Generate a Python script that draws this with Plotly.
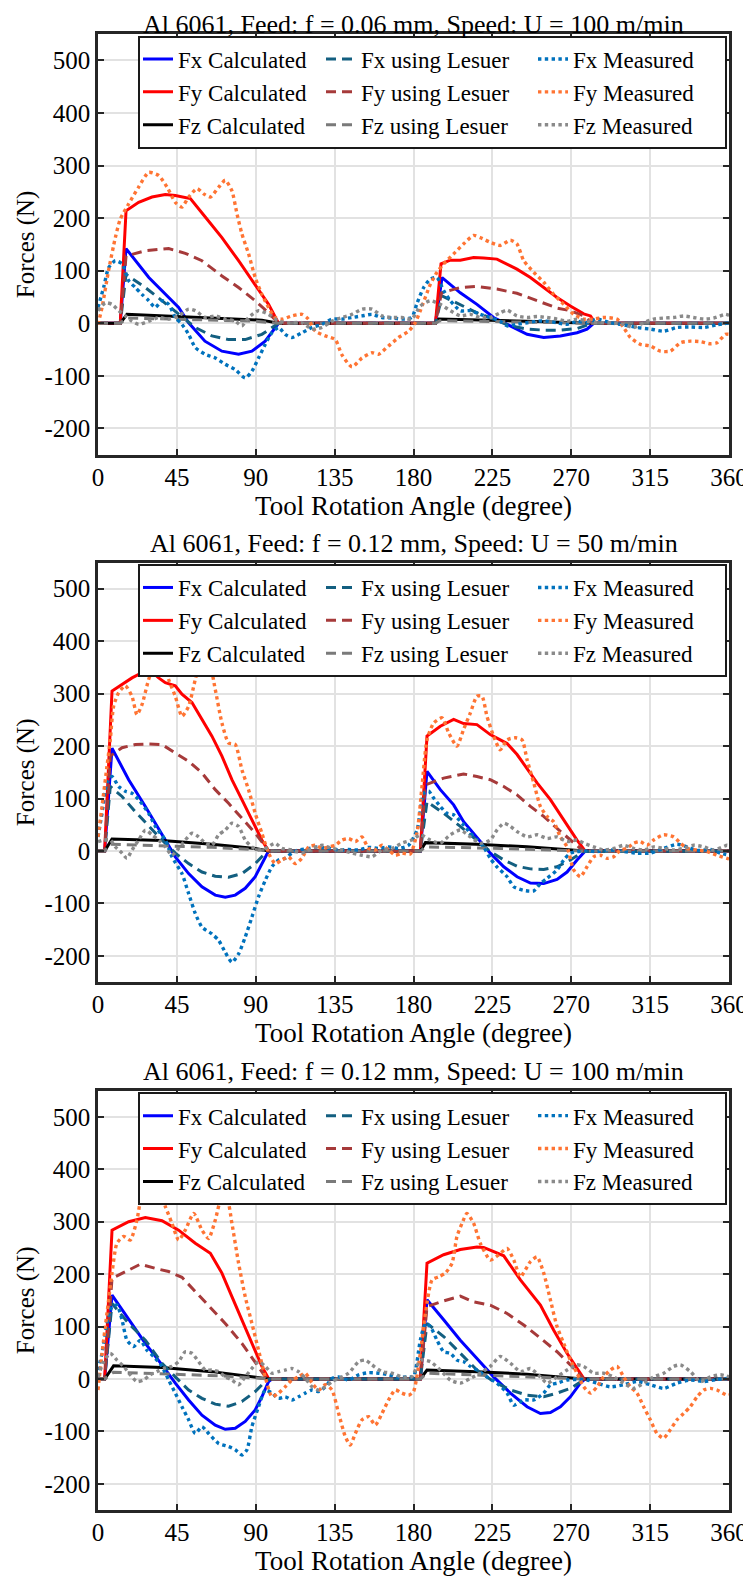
import plotly.graph_objects as go

# ---------------- DATA ----------------
titles = [
    "Al 6061, Feed: f = 0.06 mm, Speed: U = 100 m/min",
    "Al 6061, Feed: f = 0.12 mm, Speed: U = 50 m/min",
    "Al 6061, Feed: f = 0.12 mm, Speed: U = 100 m/min",
]
series_names = ["Fx Calculated", "Fy Calculated", "Fz Calculated",
                "Fx using Lesuer", "Fy using Lesuer", "Fz using Lesuer",
                "Fx Measured", "Fy Measured", "Fz Measured"]
x_ticks = [0, 45, 90, 135, 180, 225, 270, 315, 360]
y_ticks = [-200, -100, 0, 100, 200, 300, 400, 500]
y_tick_labels = ["-200", "-100", "0", "100", "200", "300", "400", "500"]

# ----- Plot 1: f = 0.06 mm, U = 100 m/min -----
p1_fx_calc_x = [0, 12.7, 16, 29, 46, 51.7, 61, 70.7, 80.2, 87.8, 95.4, 103, 192.5, 196.3, 206.7, 216.2, 225.7, 235.3, 244.8, 254.3, 263.8, 273.3, 279, 282.8, 360]
p1_fx_calc_y = [0, 0, 142, 87, 30, 1, -34, -53, -59, -53, -34, 0, 0, 87, 58, 36, 11, -5, -21, -27, -24, -18, -11, 0, 0]
p1_fy_calc_x = [0, 12.7, 16, 23.2, 30.8, 38.4, 44.1, 52.7, 61.2, 70.7, 80.2, 89.7, 97.3, 103, 192.5, 195.7, 201, 206.7, 214.3, 220, 227.6, 235.3, 239, 246.7, 254.3, 261.9, 269.5, 277.1, 281, 283.8, 360]
p1_fy_calc_y = [0, 0, 214, 230, 240, 245, 243, 237, 202, 163, 119, 74, 36, 0, 0, 113, 120, 120, 125, 124, 122, 109, 103, 87, 68, 49, 33, 18, 14, 0, 0]
p1_fz_calc_x = [0, 12.7, 16.5, 55.5, 74.5, 93.5, 103, 192.5, 194.4, 225.7, 254.3, 281.9, 360]
p1_fz_calc_y = [0, 0, 17, 12, 9, 6, 0, 0, 8, 6, 3, 0, 0]
p1_fx_les_x = [0, 12.7, 16, 27, 36.5, 46, 55.5, 65, 74.5, 84, 93.5, 103, 192.5, 196.3, 206.7, 216.2, 225.7, 235.3, 244.8, 254.3, 263.8, 273.3, 281.9, 360]
p1_fx_les_y = [0, 0, 93, 68, 43, 17, -8, -24, -31, -31, -21, 0, 0, 52, 36, 20, 8, -5, -11, -13, -13, -10, 0, 0]
p1_fy_les_x = [0, 12.7, 16, 27, 40.3, 49.8, 59.3, 70.7, 80.2, 89.7, 97.3, 103, 192.5, 196, 206.7, 216.2, 227.6, 239, 250.5, 261.9, 269.5, 277.1, 281.9, 360]
p1_fy_les_y = [0, 0, 128, 138, 142, 133, 119, 90, 68, 43, 20, 0, 0, 58, 68, 70, 65, 57, 43, 29, 24, 14, 0, 0]
p1_fz_les_x = [0, 12.7, 16.5, 55, 90, 103, 192.5, 195, 240, 281.9, 360]
p1_fz_les_y = [0, 0, 10, 7, 4, 0, 0, 5, 3, 0, 0]
p1_fx_meas_x = [0, 3.2, 6.1, 9.9, 13.7, 17.5, 21.3, 25.1, 28.9, 32.7, 36.5, 40.3, 44.1, 47.9, 51.7, 55.5, 61.2, 66.9, 72.6, 78.3, 84, 87.8, 91.6, 95.4, 99.2, 103, 106.8, 110.6, 116.4, 122, 127.8, 133.5, 139.2, 144.9, 150.6, 156.3, 162, 167.7, 173.4, 179, 182, 185.8, 189.6, 193.4, 197.2, 201, 206.7, 212.4, 218.1, 223.8, 229.5, 233.4, 239, 244.8, 250.5, 256.2, 261.9, 267.6, 273.3, 279, 284.7, 292.3, 299.9, 307.5, 315.1, 322.7, 330.3, 338, 345.6, 353.2, 360]
p1_fx_meas_y = [30, 68, 106, 119, 113, 81, 68, 55, 43, 30, 43, 36, 11, -2, -21, -46, -59, -66, -78, -88, -104, -91, -66, -40, -18, -8, -21, -27, -18, -8, -2, 8, 8, 11, 14, 17, 11, 10, 8, 11, 38, 68, 84, 87, 62, 43, 24, 24, 17, 11, 4, -5, -2, 1, 4, 4, 1, -2, 4, 1, 8, 1, -3, -8, -11, -15, -8, -7, -8, -3, 1]
p1_fy_meas_x = [0, 2.3, 6, 9.9, 12.7, 17.5, 23.2, 28.9, 34.6, 39.4, 44.1, 47.9, 51.7, 56.5, 60.3, 64.1, 68.9, 72.6, 76.4, 79.3, 82.1, 85.9, 89.7, 93.5, 97.3, 101, 105, 110.6, 116.4, 120, 124, 129.7, 135.4, 139, 144.9, 150.6, 156.3, 160, 165.8, 171.5, 177.2, 181, 183.9, 189.6, 193.4, 197.2, 202.9, 208.6, 214.3, 218.1, 223.8, 229.5, 235.3, 239, 242.9, 248.6, 254.3, 260, 265.7, 271.4, 277.1, 282.8, 288.5, 296.1, 299.9, 303.7, 309.4, 315.1, 320.8, 326.5, 332.3, 338, 343.7, 349.4, 353.2, 357.9, 360]
p1_fy_meas_y = [-2, 30, 100, 163, 198, 227, 259, 287, 281, 259, 230, 221, 240, 256, 246, 240, 259, 272, 252, 208, 170, 132, 87, 55, 30, 11, 8, 14, 17, 8, -15, -24, -31, -59, -83, -66, -56, -59, -43, -27, -15, 1, 24, 74, 97, 113, 132, 151, 167, 163, 154, 148, 158, 151, 119, 97, 78, 55, 36, 17, 8, 8, 11, 8, -8, -27, -40, -43, -53, -53, -37, -34, -35, -39, -37, -21, -21]
p1_fz_meas_x = [0, 4.2, 8, 11.8, 15.6, 19.4, 23.2, 28.9, 34.6, 40.3, 46, 51.7, 55.5, 61.2, 66.9, 72.6, 78.3, 82.1, 85.9, 91.6, 97.3, 103, 108.6, 116.4, 122, 127.8, 133.5, 139.2, 144.9, 150.6, 156.3, 162, 167.7, 173.4, 179, 183.9, 189.6, 195.3, 201, 206.7, 212.4, 218.1, 223.8, 229.5, 233.4, 239, 244.8, 250.5, 256.2, 261.9, 267.6, 273.3, 279, 284.7, 292.3, 299.9, 305.6, 311.3, 317, 322.7, 328.4, 334.1, 339.8, 345.6, 351.3, 358, 360]
p1_fz_meas_y = [24, 39, 36, 24, 14, 4, -2, 4, 11, 8, 14, 27, 24, 11, 14, 8, 4, -5, 11, 24, 17, 4, 1, 1, -11, -8, 4, 11, 17, 27, 27, 14, 11, 11, 8, 33, 43, 36, 24, 14, 17, 11, 11, 20, 25, 14, 11, 13, 11, 8, 4, 8, 4, 1, 1, -2, -8, 1, 8, 10, 11, 14, 11, 8, 10, 17, 15]

# ----- Plot 2: f = 0.12 mm, U = 50 m/min -----
p2_fx_calc_x = [0, 3.8, 8, 17.5, 27, 32.7, 38.4, 44.1, 51.7, 59.3, 66.9, 72.6, 78.3, 84, 89.7, 93.5, 97.3, 183.9, 187.7, 195.3, 202.9, 208.6, 216.2, 223.8, 231.5, 239.1, 246.7, 254.3, 261.9, 267.6, 273.3, 278, 360]
p2_fx_calc_y = [0, 0, 196, 136, 85, 53, 21, -11, -43, -68, -84, -88, -84, -71, -49, -24, 0, 0, 152, 117, 88, 56, 27, -4, -30, -49, -61, -62, -54, -40, -17, 0, 0]
p2_fy_calc_x = [0, 3.8, 8, 13.7, 19.4, 25.1, 30.8, 34.6, 38.4, 44.1, 47.9, 53.6, 59.3, 65, 70.7, 76.4, 82.1, 87.8, 93.5, 97.3, 183.9, 187.7, 195.3, 202.9, 208.6, 216.2, 223.8, 229.5, 233.4, 239.1, 244.8, 250.5, 258.1, 265.7, 273.3, 278, 360]
p2_fy_calc_y = [0, 0, 305, 318, 330, 340, 342, 330, 321, 315, 299, 283, 251, 219, 181, 136, 98, 59, 21, 0, 0, 219, 238, 251, 243, 241, 222, 212, 205, 184, 158, 130, 98, 59, 21, 0, 0]
p2_fz_calc_x = [0, 3.8, 8, 36.5, 65, 89.7, 97.3, 183.9, 186.8, 216.2, 244.8, 273.3, 278, 360]
p2_fz_calc_y = [0, 0, 23, 20, 13, 5, 0, 0, 16, 13, 8, 2, 0, 0]
p2_fx_les_x = [0, 3.8, 7, 13.7, 21.3, 28.9, 36.5, 44.1, 51.7, 59.3, 66.9, 74.5, 82.1, 89.7, 95.4, 97.3, 183.9, 187.7, 197.2, 206.7, 216.2, 223.8, 231.5, 239.1, 246.7, 254.3, 261.9, 269.5, 277.1, 360]
p2_fx_les_y = [0, 0, 123, 104, 75, 47, 21, -4, -24, -40, -48, -50, -43, -24, -4, 0, 0, 94, 72, 47, 21, -1, -17, -29, -34, -35, -30, -17, -1, 0]
p2_fy_les_x = [0, 3.8, 7, 13.7, 21.3, 28.9, 36.5, 44.1, 51.7, 59.3, 66.9, 74.5, 82.1, 89.7, 96.4, 97.3, 183.9, 186.8, 197.2, 208.6, 216.2, 223.8, 231.5, 239.1, 246.7, 254.3, 261.9, 269.5, 275.2, 278, 360]
p2_fy_les_y = [0, 0, 181, 197, 203, 204, 203, 187, 171, 149, 117, 91, 63, 34, 5, 0, 0, 126, 139, 147, 142, 136, 123, 107, 85, 66, 43, 21, 5, 0, 0]
p2_fz_les_x = [0, 3.8, 7, 36.5, 65, 93.5, 97.3, 183.9, 186.8, 230, 278, 360]
p2_fz_les_y = [0, 0, 13, 10, 7, 2, 0, 0, 8, 5, 0, 0]
p2_fx_meas_x = [0, 2.3, 5.1, 8, 11.8, 15.6, 19.4, 23.2, 28.9, 32.7, 38.4, 42.2, 47.9, 51.7, 55.5, 59.3, 65, 68.8, 72.6, 76.4, 80.2, 84, 87.8, 91.6, 95.4, 99.2, 103, 106.8, 110.6, 114.4, 120.2, 125.9, 131.6, 137.3, 143, 148.7, 154.4, 160.1, 165.8, 171.5, 177.2, 182, 185.8, 188.7, 191.5, 195.3, 199.1, 202.9, 208.6, 212.4, 216.2, 220, 223.8, 227.6, 233.4, 237.2, 242.9, 248.6, 252.4, 256.2, 261.9, 265.7, 269.5, 273.3, 279, 284.7, 292.3, 299.9, 307.5, 315.1, 322.7, 330.3, 336, 341.8, 349.4, 355.1, 360]
p2_fx_meas_y = [27, 72, 130, 142, 123, 114, 110, 98, 72, 47, 21, -11, -43, -81, -119, -145, -158, -170, -193, -212, -196, -164, -126, -87, -56, -30, -17, -14, -4, 2, 5, 8, 5, 2, 3, 2, 7, 5, 8, 5, 11, 40, 110, 114, 101, 85, 72, 69, 50, 34, 21, 8, -14, -30, -49, -68, -75, -76, -62, -52, -36, -17, -4, -1, 0, -1, 2, -1, -4, -4, 5, 13, 8, 1, 3, -4, -8]
p2_fy_meas_x = [0, 2.3, 5.1, 7, 8.9, 11.8, 15.6, 19.4, 22.2, 25.1, 28.9, 32.7, 36, 40.3, 44.1, 47.9, 51.7, 55.5, 59.3, 63.1, 66.9, 70.7, 74.5, 78.3, 82.1, 85.9, 89.7, 93.5, 97.3, 101.1, 104.9, 108.7, 112.5, 116.3, 120.2, 124, 127.8, 131.6, 135.4, 139.2, 143, 146.8, 150.6, 154.4, 158.2, 162, 165.8, 169.6, 173.4, 178.1, 182, 184.9, 187.7, 191.5, 196.3, 200.1, 204.8, 208.6, 212.4, 216.2, 219.1, 221.9, 225.7, 229.5, 233.4, 238.1, 241.9, 244.8, 248.6, 252.4, 256.2, 260, 263.8, 267.6, 271.4, 275.2, 279, 282.8, 286.6, 290.4, 294.2, 298, 301.8, 305.6, 309.4, 313.2, 317, 322.7, 328.4, 332.3, 336, 341.8, 347.5, 353.2, 358.9, 360]
p2_fy_meas_y = [27, 85, 161, 212, 276, 302, 315, 295, 260, 279, 327, 359, 375, 327, 295, 257, 276, 327, 372, 365, 308, 244, 206, 203, 155, 117, 72, 34, -4, -24, -17, -11, -24, -14, 8, 11, 5, 8, 11, 21, 24, 18, 27, 5, 2, 11, 2, -8, -4, -6, 35, 125, 212, 244, 254, 225, 200, 232, 263, 295, 295, 257, 219, 193, 212, 216, 212, 174, 130, 85, 66, 56, 27, 8, -36, -49, -30, -11, -8, -14, -11, 2, 5, 15, 18, 11, 21, 31, 27, 15, 5, 2, -1, -8, -14, -15]
p2_fz_meas_x = [0, 3.2, 7, 9.9, 13.7, 16.5, 19.4, 23.2, 27, 30.8, 34.6, 38.4, 42.2, 46, 49.8, 53.6, 57.4, 61.2, 65, 68.8, 72.6, 76.4, 80.2, 84, 87.8, 91.6, 95.4, 101.1, 104.9, 110.6, 116.3, 122, 127.8, 133.5, 139.2, 144.9, 150.6, 156.3, 162, 167.7, 173.4, 179, 183.9, 189.6, 195.3, 201, 206.7, 212.4, 218.1, 223.8, 227.6, 231.5, 235.3, 239.1, 244.8, 250.5, 256.2, 261.9, 267.6, 273.3, 277.1, 282.8, 288.5, 294.2, 299.9, 305.6, 311.3, 317, 322.7, 328.4, 334.1, 339.8, 345.6, 351.3, 358.9, 360]
p2_fz_meas_y = [18, 21, 21, 8, -4, -14, 2, 21, 40, 31, 21, 8, -8, 5, 21, 34, 27, 15, 11, 31, 40, 53, 47, 21, 8, 2, 5, 15, 5, 2, -4, 5, 11, 5, 2, -4, -8, -11, 2, 5, 15, 21, 31, 21, 15, 31, 40, 27, 15, 21, 40, 53, 47, 37, 27, 31, 24, 27, 18, 21, 15, 8, 2, 5, 11, 5, 2, 8, 5, 2, 5, 11, 8, 2, 11, 10]

# ----- Plot 3: f = 0.12 mm, U = 100 m/min -----
p3_fx_calc_x = [0, 3.8, 8, 17.5, 27, 36.5, 44.1, 51.7, 59.3, 66.9, 72.6, 78.3, 84, 89.7, 93.5, 97.3, 99.2, 183.9, 187.7, 197.2, 206.7, 216.2, 225.7, 235.3, 244.8, 252.4, 258.1, 263.8, 269.5, 275.2, 278, 360]
p3_fx_calc_y = [0, 0, 160, 113, 68, 27, -8, -40, -69, -88, -96, -94, -81, -59, -34, -5, 0, 0, 151, 113, 74, 39, 4, -27, -53, -66, -64, -53, -34, -8, 0, 0]
p3_fy_calc_x = [0, 3.8, 8, 17.5, 27, 36.5, 46, 55.5, 64.1, 70.7, 76.4, 82.1, 87.8, 93.5, 97.3, 99, 183.9, 187.7, 197.2, 206.7, 216.2, 220, 231.5, 241, 252.4, 260, 267.6, 273.3, 277.1, 278.5, 360]
p3_fy_calc_y = [0, 0, 284, 300, 308, 302, 284, 259, 240, 202, 157, 113, 68, 24, 1, 0, 0, 221, 237, 247, 252, 251, 235, 189, 141, 93, 49, 20, 1, 0, 0]
p3_fz_calc_x = [0, 3.8, 8.9, 36.5, 65, 89.7, 97.3, 183.9, 187.7, 216.2, 244.8, 273.3, 278, 360]
p3_fz_calc_y = [0, 0, 25, 22, 14, 4, 0, 0, 17, 14, 9, 1, 0, 0]
p3_fx_les_x = [0, 3.8, 8, 17.5, 27, 36.5, 44.1, 51.7, 59.3, 66.9, 74.5, 82.1, 89.7, 95.4, 98, 183.9, 187.7, 197.2, 206.7, 216.2, 225.7, 235.3, 244.8, 254.3, 261.9, 269.5, 277.1, 278.5, 360]
p3_fx_les_y = [0, 0, 144, 106, 74, 30, 4, -21, -37, -48, -52, -43, -24, -5, 0, 0, 106, 81, 49, 17, -5, -21, -31, -34, -27, -18, -2, 0, 0]
p3_fy_les_x = [0, 3.8, 8, 15.6, 24.2, 32.7, 40.3, 47.9, 55.5, 63.1, 72.6, 82.1, 89.7, 96.4, 183.9, 187.7, 197.2, 206.7, 214.3, 223.8, 233.4, 242.9, 252.4, 261.9, 269.5, 277.1, 360]
p3_fy_les_y = [0, 0, 192, 205, 219, 211, 205, 194, 167, 138, 106, 68, 33, 0, 0, 138, 149, 158, 147, 141, 125, 103, 78, 52, 27, 0, 0]
p3_fz_les_x = [0, 3.8, 8.9, 40, 70, 97.3, 183.9, 187.7, 230, 278, 360]
p3_fz_les_y = [0, 0, 13, 10, 6, 0, 0, 11, 6, 0, 0]
p3_fx_meas_x = [0, 2.3, 5.1, 8, 10.8, 13.7, 16.5, 20.3, 24.1, 27.9, 31.7, 36.5, 40.3, 44.1, 47.9, 51.7, 55.5, 59.3, 63.1, 68.8, 74.5, 78.3, 82.1, 85, 87.8, 91.6, 95.4, 99.2, 103, 106.8, 110.6, 114.4, 118.3, 122.1, 125.9, 129.7, 133.5, 137.3, 143, 148.7, 154.4, 160.1, 165.8, 171.5, 177.2, 180, 183.9, 186.8, 189.6, 193.4, 197.2, 201, 204.8, 208.6, 212.4, 216.2, 221.9, 227.6, 233.4, 237.2, 242.9, 248.6, 254.3, 258.1, 261.9, 267.6, 273.3, 279, 284.7, 292.3, 299.9, 307.5, 315.1, 322.7, 330.3, 338, 345.6, 353.2, 360]
p3_fx_meas_y = [17, 49, 106, 138, 141, 113, 74, 62, 74, 55, 43, 24, -2, -27, -53, -78, -104, -91, -104, -123, -129, -135, -145, -135, -91, -53, -21, -27, -37, -34, -40, -34, -27, -21, -24, -15, 1, 4, -2, 8, 12, 11, 8, 3, 4, 4, 74, 106, 100, 74, 52, 49, 36, 33, 24, 17, 4, -8, -27, -50, -40, -40, -27, -11, -8, -2, -1, -2, -8, -15, -11, -5, -11, -18, -8, -2, -5, -1, 1]
p3_fy_meas_x = [0, 2.3, 5.1, 8, 10.8, 14.6, 18.4, 22.2, 25.1, 28, 31, 34.6, 38.4, 42.2, 46, 49.8, 54.6, 59.3, 63.1, 66.9, 70.7, 73.6, 76.4, 80.2, 84, 87.8, 91.6, 95.4, 99.2, 103, 106.8, 110.6, 114.4, 118.3, 122.1, 125.9, 129.7, 133.5, 137.3, 141.1, 143.9, 146.8, 150.6, 154.4, 158.2, 162, 165.8, 169.6, 173.4, 177.2, 180, 183.9, 186.8, 190.6, 194.4, 198.2, 202, 204.8, 207.7, 210.5, 214.3, 218.1, 223.8, 228.6, 233.4, 237.2, 241, 246.7, 250.5, 254.3, 258.1, 261.9, 265.7, 269.5, 273.3, 277.1, 281, 284.7, 288.5, 292.3, 296.1, 299.9, 303.7, 307.5, 311.3, 315.1, 318.9, 322.7, 326.5, 330.3, 334.1, 337.9, 341.8, 345.6, 349.4, 353.2, 358.9, 360]
p3_fy_meas_y = [-21, 49, 125, 202, 259, 272, 265, 303, 354, 368, 364, 361, 329, 297, 265, 284, 316, 284, 268, 303, 348, 345, 297, 221, 157, 106, 55, 4, -34, -27, -15, -2, 4, 11, -8, -21, -11, -21, -66, -110, -126, -104, -78, -72, -88, -66, -40, -21, -27, -31, -24, 49, 125, 189, 195, 202, 221, 272, 297, 316, 297, 259, 227, 237, 249, 227, 195, 224, 233, 202, 151, 100, 68, 36, 11, -15, -27, -15, 4, 17, 24, 4, -15, -27, -53, -78, -104, -113, -97, -78, -66, -53, -34, -21, -18, -21, -31, -30]
p3_fz_meas_x = [0, 3.2, 7, 10.8, 14.6, 18.4, 22.2, 26, 29.8, 33.6, 37.5, 42.2, 46, 49.8, 53.6, 57.4, 61.2, 65, 68.8, 72.6, 76.4, 80.2, 84, 87.8, 91.6, 95.4, 99.2, 103, 106.8, 110.6, 114.4, 118.3, 122.1, 125.9, 129.7, 133.5, 137.3, 143, 148.7, 152.5, 156.3, 162, 167.7, 173.4, 179, 183.9, 189.6, 195.3, 201, 206.7, 212.4, 218.1, 223.8, 229.5, 235.3, 241, 246.7, 252.4, 256.2, 261.9, 267.6, 273.3, 277.1, 282.8, 288.5, 294.2, 299.9, 305.6, 311.3, 317, 322.7, 328.4, 332.3, 338, 343.7, 349.4, 355.1, 360]
p3_fz_meas_y = [4, 33, 49, 36, 24, 8, -5, -2, 8, 14, 20, 24, 33, 52, 49, 33, 17, 17, 14, 4, -2, -11, 4, 20, 33, 24, 11, 14, 17, 20, 14, 1, -15, -21, -15, -5, 1, 11, 33, 36, 27, 14, 11, 4, 4, 36, 33, 17, -2, -8, 1, 11, 24, 43, 30, 14, 20, 4, -8, 4, 17, 27, 24, 11, 11, 4, -8, -18, -8, 4, 11, 24, 27, 14, -5, 4, 8, 4]

# ---------------- STYLE ----------------
FONT = "Liberation Serif"
colors = ["#0000ff", "#ff0000", "#000000",
          "#135f80", "#a63a3a", "#7a7a7a",
          "#0072bd", "#ff7433", "#8a8a8a"]
dashes = ["solid", "solid", "solid",
          "10px,6px", "10px,6px", "10px,6px",
          "dot", "dot", "dot"]
widths = [3, 3, 3, 3, 3, 3, 3.4, 3.4, 3.4]
shapes_ = ["linear"] * 6 + ["spline"] * 3
groups = ["calc"] * 3 + ["les"] * 3 + ["meas"] * 3
leg_widths = [138] * 3 + [167] * 3 + [147] * 3

plots = [
    [(p1_fx_calc_x, p1_fx_calc_y), (p1_fy_calc_x, p1_fy_calc_y), (p1_fz_calc_x, p1_fz_calc_y),
     (p1_fx_les_x, p1_fx_les_y), (p1_fy_les_x, p1_fy_les_y), (p1_fz_les_x, p1_fz_les_y),
     (p1_fx_meas_x, p1_fx_meas_y), (p1_fy_meas_x, p1_fy_meas_y), (p1_fz_meas_x, p1_fz_meas_y)],
    [(p2_fx_calc_x, p2_fx_calc_y), (p2_fy_calc_x, p2_fy_calc_y), (p2_fz_calc_x, p2_fz_calc_y),
     (p2_fx_les_x, p2_fx_les_y), (p2_fy_les_x, p2_fy_les_y), (p2_fz_les_x, p2_fz_les_y),
     (p2_fx_meas_x, p2_fx_meas_y), (p2_fy_meas_x, p2_fy_meas_y), (p2_fz_meas_x, p2_fz_meas_y)],
    [(p3_fx_calc_x, p3_fx_calc_y), (p3_fy_calc_x, p3_fy_calc_y), (p3_fz_calc_x, p3_fz_calc_y),
     (p3_fx_les_x, p3_fx_les_y), (p3_fy_les_x, p3_fy_les_y), (p3_fz_les_x, p3_fz_les_y),
     (p3_fx_meas_x, p3_fx_meas_y), (p3_fy_meas_x, p3_fy_meas_y), (p3_fz_meas_x, p3_fz_meas_y)],
]

# page body has an 8px margin: build the figure 8px smaller and shift coordinates
OFF = 8
W, H = 751 - OFF, 1578 - OFF
box_left, box_right = 98 - OFF, 729 - OFF
box_px = [(34.3 - OFF, 455.0 - OFF), (562.7 - OFF, 982.3 - OFF), (1090.8 - OFF, 1510.0 - OFF)]
title_shift = [10, 19, 19]
ML, MR = box_left, W - box_right
MT, MB = box_px[0][0], H - box_px[2][1]
plot_h = H - MT - MB
plot_w = W - ML - MR

def py(px):
    return (H - MB - px) / plot_h

def pxx(px):
    return (px - ML) / plot_w

fig = go.Figure()
layout = dict(
    template="none",
    width=W, height=H,
    margin=dict(l=ML, r=MR, t=MT, b=MB, autoexpand=False),
    paper_bgcolor="white", plot_bgcolor="white",
    font=dict(family=FONT, size=25, color="#000000"),
    showlegend=True,
    annotations=[],
)

for r in range(3):
    sfx = "" if r == 0 else str(r + 1)
    leg = "legend" if r == 0 else "legend%d" % (r + 1)
    for i, (xs, ys) in enumerate(plots[r]):
        fig.add_trace(go.Scatter(
            x=xs, y=ys, mode="lines", name=series_names[i],
            line=dict(color=colors[i], width=widths[i], dash=dashes[i], shape=shapes_[i], smoothing=0.6),
            xaxis="x" + sfx, yaxis="y" + sfx,
            legend=leg, legendgroup="%s%d" % (groups[i], r), legendwidth=leg_widths[i],
            showlegend=True, hoverinfo="skip",
        ))
    top, bot = box_px[r]
    axis_common = dict(
        showline=True, linecolor="#262626", linewidth=2.5, mirror="ticks",
        ticks="inside", ticklen=6, tickwidth=2, tickcolor="#262626",
        showgrid=True, gridcolor="#e2e2e2", gridwidth=1.5, zeroline=False,
        automargin=False,
        tickfont=dict(family=FONT, size=25, color="#000000"),
    )
    layout["xaxis" + sfx] = dict(
        axis_common, domain=[0, 1], range=[0, 360], tickmode="array", tickvals=x_ticks,
        anchor="y" + sfx, ticklabelstandoff=-2,
        title=dict(text="Tool Rotation Angle (degree)", font=dict(family=FONT, size=27), standoff=6),
    )
    layout["yaxis" + sfx] = dict(
        axis_common, domain=[py(bot), py(top)], range=[-250, 550], tickmode="array",
        tickvals=y_ticks, ticktext=y_tick_labels, anchor="x" + sfx,
        title=dict(text="Forces (N)", font=dict(family=FONT, size=25), standoff=3),
    )
    layout[leg] = dict(
        x=pxx(138 - OFF), xanchor="left",
        y=py(top + 1.5), yanchor="top",
        orientation="h", traceorder="grouped",
        bgcolor="white", bordercolor="#1a1a1a", borderwidth=2,
        font=dict(family=FONT, size=23, color="#000000"),
        itemwidth=30, tracegroupgap=0,
    )
    layout["annotations"].append(dict(
        text=titles[r], xref="paper", yref="paper", x=0.5, y=py(top),
        xanchor="center", yanchor="middle", yshift=title_shift[r], showarrow=False,
        font=dict(family=FONT, size=26, color="#000000"),
    ))

fig.update_layout(**layout)
fig.write_html("out.html")
